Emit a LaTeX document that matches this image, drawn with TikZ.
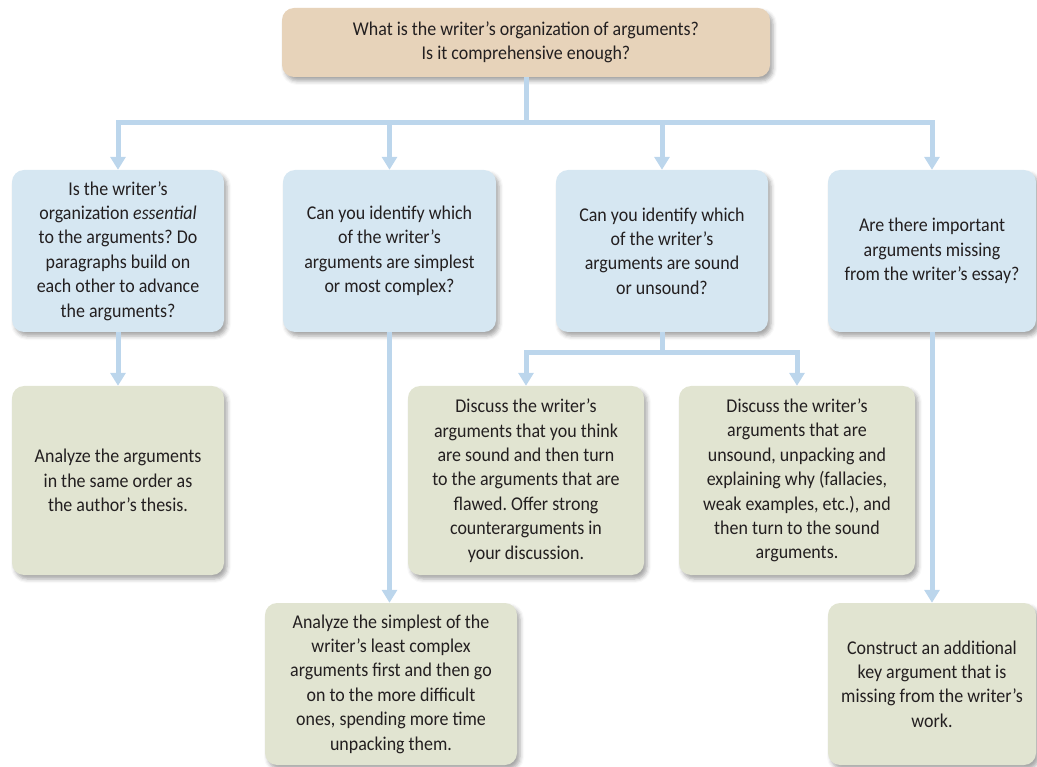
\documentclass[tikz,border=0pt]{standalone}
\usepackage{fontspec}
\setmainfont{Carlito}[FakeStretch=0.92]
\usetikzlibrary{arrows.meta,shadows.blur}

\definecolor{tanfill}{HTML}{E7D3BA}
\definecolor{bluefill}{HTML}{D6E7F2}
\definecolor{greenfill}{HTML}{E1E4D1}
\definecolor{linkblue}{HTML}{BCD6EC}
\definecolor{ink}{HTML}{231F20}

\tikzset{
  box/.style={rounded corners=12pt, inner sep=0pt, align=center, text=ink,
    font=\fontsize{19.5}{24.4}\selectfont\frenchspacing,
    blur shadow={shadow xshift=3pt, shadow yshift=-4pt, shadow blur radius=4pt, shadow opacity=35}},
  topbox/.style={box, fill=tanfill},
  qbox/.style={box, fill=bluefill},
  abox/.style={box, fill=greenfill},
  link/.style={draw=linkblue, line width=5pt},
  arr/.style={link, -{Triangle[width=15pt,length=13pt]}},
}

\begin{document}
\begin{tikzpicture}[x=1pt,y=1pt]
\useasboundingbox (0,0) rectangle (1037,-767);

% question at the top
\node[topbox, minimum width=488pt, minimum height=69pt] (top) at (526,-42.5)
  {What is the writer’s organization of arguments?\\Is it comprehensive enough?};

% second row: questions
\node[qbox, minimum width=212pt, minimum height=162pt] (b1) at (118,-251)
  {Is the writer’s\\organization \emph{essential}\\to the arguments? Do\\paragraphs build on\\each other to advance\\the arguments?};
\node[qbox, minimum width=213pt, minimum height=162pt] (b2) at (389.5,-251)
  {Can you identify which\\of the writer’s\\arguments are simplest\\or most complex?};
\node[qbox, minimum width=212pt, minimum height=162pt] (b3) at (662,-251)
  {Can you identify which\\of the writer’s\\arguments are sound\\or unsound?};
\node[qbox, minimum width=208pt, minimum height=162pt] (b4) at (932,-251)
  {Are there important\\arguments missing\\from the writer’s essay?};

% answers
\node[abox, minimum width=212pt, minimum height=189pt] (g1) at (118,-480.5)
  {Analyze the arguments\\in the same order as\\the author’s thesis.};
\node[abox, minimum width=236pt, minimum height=189pt] (g3a) at (526,-480.5)
  {Discuss the writer’s\\arguments that you think\\are sound and then turn\\to the arguments that are\\flawed. Offer strong\\counterarguments in\\your discussion.};
\node[abox, minimum width=236pt, minimum height=189pt] (g3b) at (797,-480.5)
  {Discuss the writer’s\\arguments that are\\unsound, unpacking and\\explaining why (fallacies,\\weak examples, etc.), and\\then turn to the sound\\arguments.};
\node[abox, minimum width=252pt, minimum height=162pt] (g2) at (391,-684)
  {Analyze the simplest of the\\writer’s least complex\\arguments first and then go\\on to the more difficult\\ones, spending more time\\unpacking them.};
\node[abox, minimum width=208pt, minimum height=162pt] (g4) at (932,-684)
  {Construct an additional\\key argument that is\\missing from the writer’s\\work.};

% connectors
\coordinate (j0) at (526,-123);
\coordinate (j1) at (662,-353);
\draw[link] (top.south) -- (j0);
\draw[arr] (j0) -| (b1.north);
\draw[arr] (j0) -| (b2.north);
\draw[arr] (j0) -| (b3.north);
\draw[arr] (j0) -| (b4.north);

\draw[arr] (b1.south) -- (b1.south |- g1.north);
\draw[arr] (b2.south) -- (b2.south |- g2.north);
\draw[arr] (b4.south) -- (b4.south |- g4.north);
\draw[link] (b3.south) -- (j1);
\draw[arr] (j1) -| (g3a.north);
\draw[arr] (j1) -| (g3b.north);
\end{tikzpicture}
\end{document}
